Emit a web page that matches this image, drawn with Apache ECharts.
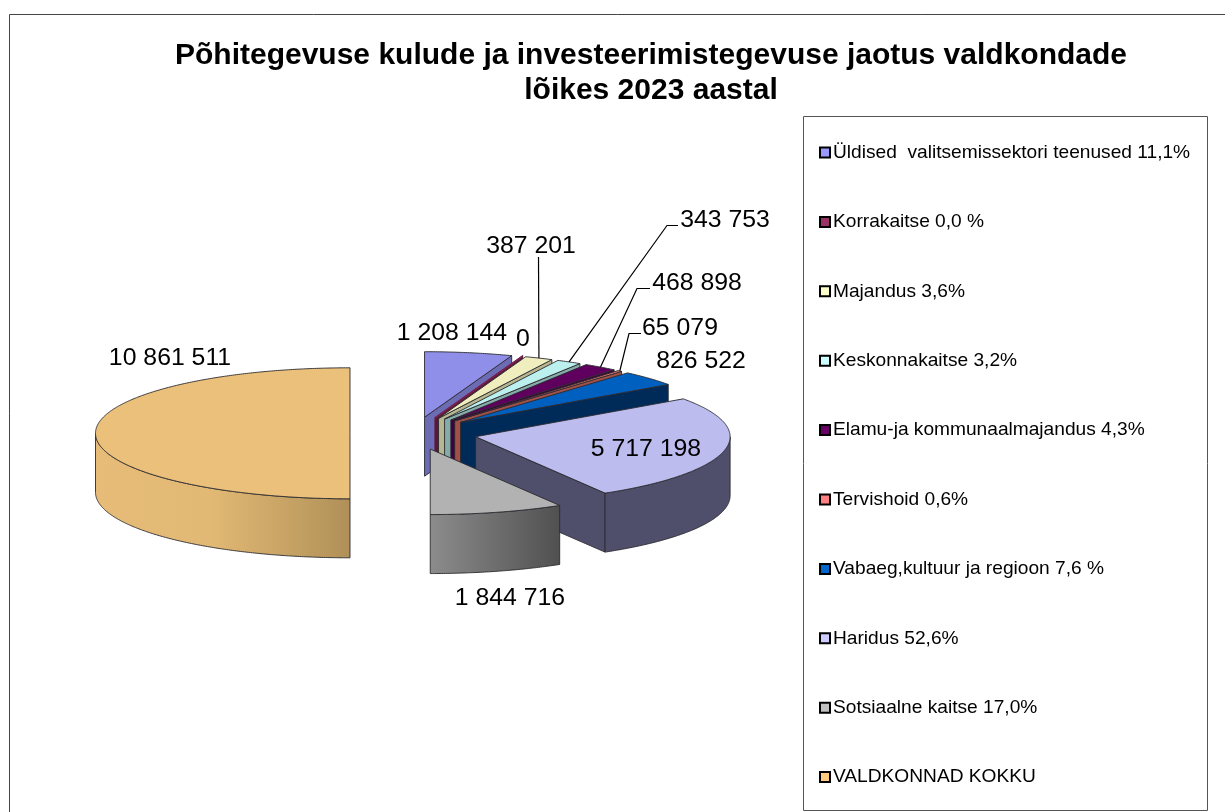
<!DOCTYPE html>
<html>
<head>
<meta charset="utf-8">
<style>
  html, body { margin: 0; padding: 0; background: #fff; }
  #chart { width: 1225px; height: 812px; }
</style>
<script src="https://cdn.jsdelivr.net/npm/echarts@6/dist/echarts.min.js"></script>
</head>
<body>
<div id="chart"></div>
<script>
// andmed
const titleText = 'Põhitegevuse kulude ja investeerimistegevuse jaotus valdkondade\nlõikes 2023 aastal';
const legendNames = [
  'Üldised  valitsemissektori teenused 11,1%',
  'Korrakaitse 0,0 %',
  'Majandus 3,6%',
  'Keskonnakaitse 3,2%',
  'Elamu-ja kommunaalmajandus 4,3%',
  'Tervishoid 0,6%',
  'Vabaeg,kultuur ja regioon 7,6 %',
  'Haridus 52,6%',
  'Sotsiaalne kaitse 17,0%',
  'VALDKONNAD KOKKU'
];
const values = [1208144, 0, 387201, 343753, 468898, 65079, 826522, 5717198, 1844716, 10861511];

// värvid
const legendColors = ['#9999FF', '#993366', '#FFFFCC', '#CCFFFF', '#660066', '#FF8080', '#0066CC', '#CCCCFF', '#C0C0C0', '#FFCC80'];
const topColors = ['#8F8FEA', '#7A2050', '#F0EEBE', '#BCF0EE', '#5F005F', '#E87868', '#0060BF', '#BCBCEE', '#B2B2B2', '#EBC07B'];
const wallColors = ['#6C6CB4', '#5A1838', '#B8B690', '#85ACA8', '#3E003E', '#A05048', '#002B59', '#4F4F6B', '#707070', '#C9A468'];

// sildid (keskpunkt) ja viigijooned
const labelPos = [[452, 333], [523, 339], [531, 246], [725, 220], [697, 283], [680, 328], [701, 361], [646, 449], [510, 598], [170, 358]];
const leaderElbow = [null, null, [[538.5, 257]], [[678, 225.5], [667, 225.5]], [[650, 288.5], [637, 288.5]], [[641, 333.5], [629, 333.5]], null, null, null, null];

// pirukas
const cx = 413.5, cy = 433.3, rx = 254.5, ry = 65.5, depth = 59, explode = 63.5;
const total = values.reduce((a, b) => a + b, 0);
const rad = (d) => d * Math.PI / 180;

let cum = 0;
const slices = values.map((v) => {
  const a0 = cum / total * 360;
  cum += v;
  const a1 = cum / total * 360;
  const mid = (a0 + a1) / 2;
  return {
    a0, a1, mid,
    ox: cx + explode * Math.sin(rad(mid)),
    oy: cy - explode * (ry / rx) * Math.cos(rad(mid))
  };
});

function rim(s, deg, drop) {
  return [s.ox + rx * Math.sin(rad(deg)), s.oy - ry * Math.cos(rad(deg)) + (drop || 0)];
}
function arc(s, from, to, drop) {
  const pts = [];
  const n = Math.max(1, Math.ceil((to - from) * 2));
  for (let k = 0; k <= n; k++) {
    pts.push(rim(s, from + (to - from) * k / n, drop));
  }
  return pts;
}
function fmt(v) {
  return String(v).replace(/\B(?=(\d{3})+$)/g, ' ');
}
function outerWallFill(i) {
  if (i === 8) {
    return { type: 'linear', x: 0, y: 0, x2: 1, y2: 0, colorStops: [
      { offset: 0, color: '#8C8C8C' }, { offset: 1, color: '#505050' }] };
  }
  if (i === 9) {
    return { type: 'linear', x: 0, y: 0, x2: 1, y2: 0, colorStops: [
      { offset: 0, color: '#E6BC78' }, { offset: 0.45, color: '#E2B974' }, { offset: 1, color: '#B09058' }] };
  }
  return wallColors[i];
}

function sliceItem(i) {
  return function (params, api) {
    const s = slices[i];
    const edge = i === 1 ? topColors[1] : '#2a2a30';
    const lw = i === 1 ? 1.6 : 0.9;
    const children = [];
    // lõikepind
    if (Math.sin(rad(s.a1)) > 0.001) {
      const e = rim(s, s.a1);
      children.push({
        type: 'polygon',
        shape: { points: [[s.ox, s.oy], e, [e[0], e[1] + depth], [s.ox, s.oy + depth]] },
        style: { fill: wallColors[i], stroke: i === 1 ? wallColors[1] : edge, lineWidth: lw }
      });
    }
    // välissein
    const w0 = Math.max(s.a0, 90), w1 = Math.min(s.a1, 270);
    if (w1 > w0) {
      children.push({
        type: 'polygon',
        shape: { points: arc(s, w0, w1).concat(arc(s, w0, w1, depth).reverse()) },
        style: { fill: outerWallFill(i), stroke: edge, lineWidth: lw }
      });
    }
    // pealispind
    children.push({
      type: 'polygon',
      shape: { points: [[s.ox, s.oy]].concat(arc(s, s.a0, s.a1)) },
      style: { fill: topColors[i], stroke: edge, lineWidth: lw }
    });
    // viigijoon
    if (leaderElbow[i]) {
      children.push({
        type: 'polyline',
        shape: { points: leaderElbow[i].concat([rim(s, s.mid)]) },
        style: { fill: null, stroke: '#000', lineWidth: 1.2 }
      });
    }
    children.push({
      type: 'text',
      z2: 50,
      style: {
        x: labelPos[i][0], y: labelPos[i][1],
        text: fmt(api.value(0)),
        fill: '#000',
        font: '24.8px "Liberation Sans", Arial, sans-serif',
        align: 'center',
        verticalAlign: 'middle'
      }
    });
    return { type: 'group', children };
  };
}

const myChart = echarts.init(document.getElementById('chart'), null, { renderer: 'canvas' });
myChart.setOption({
  animation: false,
  backgroundColor: '#fff',
  title: {
    text: titleText,
    left: 646,
    top: 33.5,
    textAlign: 'center',
    textStyle: {
      fontFamily: '"Liberation Sans", Arial, sans-serif',
      fontWeight: 'bold',
      fontSize: 30,
      lineHeight: 35,
      color: '#000'
    }
  },
  legend: {
    orient: 'vertical',
    left: 803,
    top: 116,
    padding: [27, 0, 0, 16],
    itemWidth: 10,
    itemHeight: 10,
    itemGap: 50.4,
    selectedMode: false,
    icon: 'rect',
    textStyle: {
      fontFamily: '"Liberation Sans", Arial, sans-serif',
      fontSize: 19.15,
      lineHeight: 19,
      color: '#000',
      padding: [0, 0, 0, -2]
    },
    data: legendNames.map((n, i) => ({
      name: n,
      itemStyle: { color: legendColors[i], borderColor: '#000', borderWidth: 2 }
    }))
  },
  graphic: [{
    type: 'polyline',
    silent: true,
    shape: { points: [[9.5, 812], [9.5, 14.5], [1225, 14.5]] },
    style: { fill: null, stroke: '#444', lineWidth: 1 }
  }, {
    type: 'rect',
    silent: true,
    shape: { x: 803.5, y: 116.5, width: 404, height: 694 },
    style: { fill: null, stroke: '#555', lineWidth: 1 }
  }],
  series: legendNames.map((n, i) => ({
    name: n,
    type: 'custom',
    coordinateSystem: 'none',
    itemStyle: { color: legendColors[i] },
    renderItem: sliceItem(i),
    data: [[values[i]]]
  }))
});
window.onresize = myChart.resize;
</script>
</body>
</html>
